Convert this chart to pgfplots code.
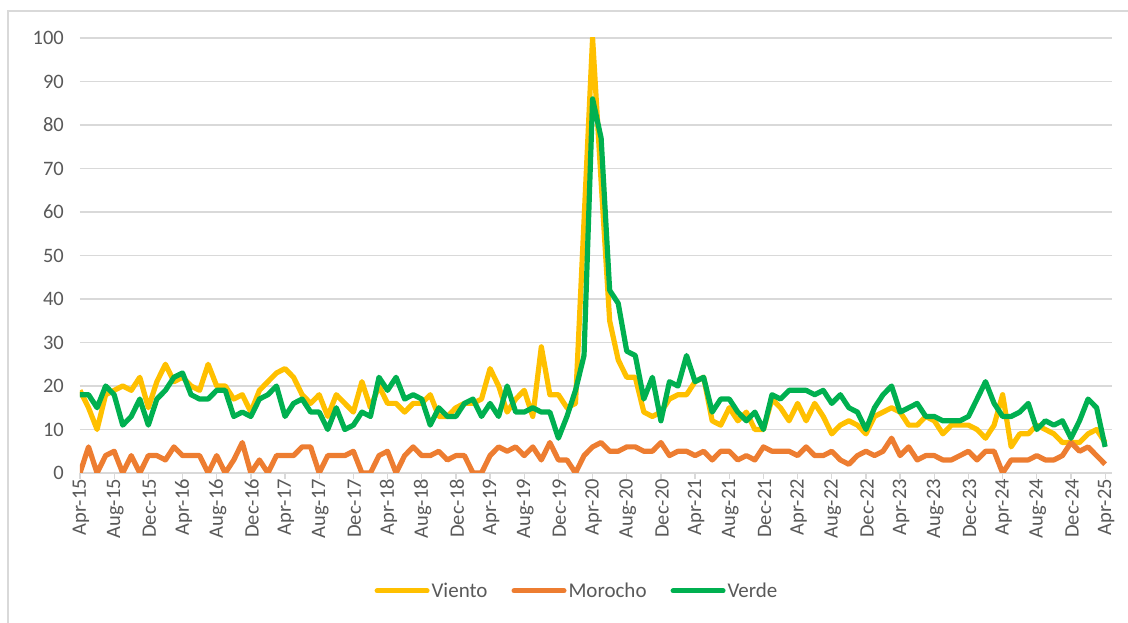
\documentclass[border=0pt]{standalone}
\usepackage{pgfplots}
\usepackage{pgfplotstable}
\pgfplotsset{compat=1.18}
\usepackage{fontspec}
\setmainfont{Carlito}
\definecolor{viento}{HTML}{FFC000}
\definecolor{morocho}{HTML}{ED7D31}
\definecolor{verde}{HTML}{00B050}
\definecolor{gridgray}{HTML}{D9D9D9}
\definecolor{txtgray}{HTML}{595959}

\pgfplotstableread{
i viento morocho verde
0 19 0 18
1 15 6 18
2 10 0 15
3 18 4 20
4 19 5 18
5 20 0 11
6 19 4 13
7 22 0 17
8 15 4 11
9 21 4 17
10 25 3 19
11 21 6 22
12 22 4 23
13 20 4 18
14 19 4 17
15 25 0 17
16 20 4 19
17 20 0 19
18 17 3 13
19 18 7 14
20 14 0 13
21 19 3 17
22 21 0 18
23 23 4 20
24 24 4 13
25 22 4 16
26 18 6 17
27 16 6 14
28 18 0 14
29 13 4 10
30 18 4 15
31 16 4 10
32 14 5 11
33 21 0 14
34 15 0 13
35 20 4 22
36 16 5 19
37 16 0 22
38 14 4 17
39 16 6 18
40 16 4 17
41 18 4 11
42 13 5 15
43 13 3 13
44 15 4 13
45 16 4 16
46 16 0 17
47 17 0 13
48 24 4 16
49 20 6 13
50 14 5 20
51 17 6 14
52 19 4 14
53 13 6 15
54 29 3 14
55 18 7 14
56 18 3 8
57 15 3 13
58 16 0 19
59 58 4 27
60 100 6 86
61 67 7 77
62 35 5 42
63 26 5 39
64 22 6 28
65 22 6 27
66 14 5 17
67 13 5 22
68 14 7 12
69 17 4 21
70 18 5 20
71 18 5 27
72 21 4 21
73 22 5 22
74 12 3 14
75 11 5 17
76 15 5 17
77 12 3 14
78 14 4 12
79 10 3 14
80 10 6 10
81 17 5 18
82 15 5 17
83 12 5 19
84 16 4 19
85 12 6 19
86 16 4 18
87 13 4 19
88 9 5 16
89 11 3 18
90 12 2 15
91 11 4 14
92 9 5 10
93 13 4 15
94 14 5 18
95 15 8 20
96 14 4 14
97 11 6 15
98 11 3 16
99 13 4 13
100 12 4 13
101 9 3 12
102 11 3 12
103 11 4 12
104 11 5 13
105 10 3 17
106 8 5 21
107 11 5 16
108 18 0 13
109 6 3 13
110 9 3 14
111 9 3 16
112 11 4 10
113 10 3 12
114 9 3 11
115 7 4 12
116 7 7 8
117 7 5 12
118 9 6 17
119 10 4 15
120 7 2 6
}\datatable

\begin{document}
\begin{tikzpicture}[x=1pt,y=1pt]
\useasboundingbox (0,0) rectangle (1128,623);
\draw[gridgray, line width=1.3pt] (8,0) -- (8,612) -- (1128,612);
\begin{axis}[
  at={(80pt,150pt)}, anchor=south west,
  scale only axis, width=1032pt, height=435pt,
  xmin=0, xmax=120.8, ymin=0, ymax=100,
  axis x line*=bottom, axis y line*=left,
  y axis line style={draw=none},
  x axis line style={draw=gridgray, line width=1.3pt},
  ytick={0,10,...,100},
  ytick style={draw=none},
  xtick={0,4,...,120},
  xticklabels={Apr-15,Aug-15,Dec-15,Apr-16,Aug-16,Dec-16,Apr-17,Aug-17,Dec-17,Apr-18,Aug-18,Dec-18,Apr-19,Aug-19,Dec-19,Apr-20,Aug-20,Dec-20,Apr-21,Aug-21,Dec-21,Apr-22,Aug-22,Dec-22,Apr-23,Aug-23,Dec-23,Apr-24,Aug-24,Dec-24,Apr-25},
  xtick style={draw=gridgray, line width=1.3pt},
  xtick align=outside,
  major tick length=6pt,
  ymajorgrids,
  grid style={gridgray, line width=1.3pt},
  /pgf/number format/assume math mode=true,
  tick label style={font=\fontsize{20.5}{24}\selectfont, text=txtgray},
  yticklabel style={anchor=east, inner sep=0pt, xshift=-16pt},
  xticklabel style={rotate=90, anchor=east, inner sep=0pt, yshift=-1pt},
  legend style={at={(0.4816,-0.271)}, anchor=center, draw=none, fill=none,
    font=\fontsize{21}{25}\selectfont, text=txtgray,
    legend columns=-1,
    /tikz/every even column/.append style={column sep=22pt},
    /tikz/every odd column/.append style={inner xsep=1pt}},
  legend image code/.code={\draw[#1, line width=5pt, line cap=round] (0pt,0pt) -- (50pt,0pt);},
  every axis plot/.append style={line width=5.2pt, line join=round, mark=none},
]
\addplot[viento] table[x=i, y=viento] {\datatable};
\addlegendentry{Viento}
\addplot[morocho] table[x=i, y=morocho] {\datatable};
\addlegendentry{Morocho}
\addplot[verde] table[x=i, y=verde] {\datatable};
\addlegendentry{Verde}
\end{axis}
\end{tikzpicture}
\end{document}
